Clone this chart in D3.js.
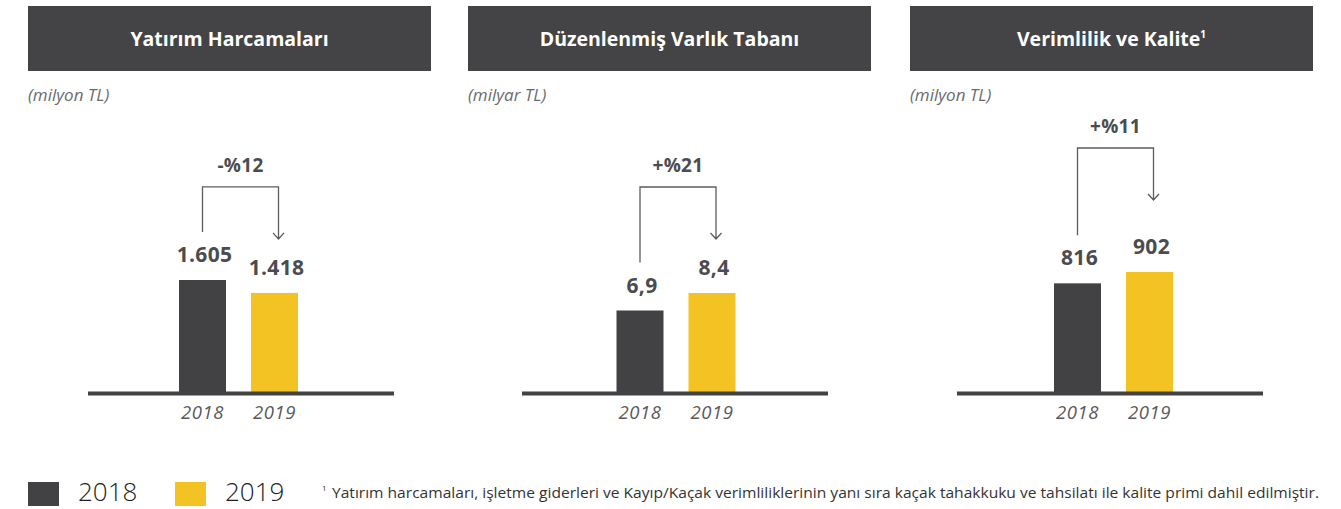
<!DOCTYPE html>
<html>
<head>
<meta charset="utf-8">
<script src="https://cdn.jsdelivr.net/npm/d3@7"></script>
<style>
  body { margin: 0; background: #fff; }
  svg { display: block; font-family: "Open Sans", "Noto Sans", sans-serif; }
</style>
</head>
<body>
<svg width="1341" height="509"></svg>
<script>
// data
var years = ["2018", "2019"];
var titles = ["Yatırım Harcamaları", "Düzenlenmiş Varlık Tabanı", "Verimlilik ve Kalite"];
var units = ["(milyon TL)", "(milyar TL)", "(milyon TL)"];
var values2018 = [1605, 6.9, 816];
var values2019 = [1418, 8.4, 902];
var valueFormats = [",d", ",.1f", ",d"];
var changeLabels = ["-%12", "+%21", "+%11"];
var footnote = "Yatırım harcamaları, işletme giderleri ve Kayıp/Kaçak verimliliklerinin yanı sıra kaçak tahakkuku ve tahsilatı ile kalite primi dahil edilmiştir.";

// layout
var panelX = [28, 468, 910],
    panelW = 403,
    axisCenter = [241, 675, 1110],
    barCenter = [238.5, 676, 1113.5],
    tallest = [111, 98, 119],
    arrowGap = [54, 54, 72],
    baseY = 391;

var dark = "#424244", yellow = "#f2c322", textGrey = "#4b4c4f";
var colors = [dark, yellow];

var tr = d3.formatLocale({decimal: ",", thousands: ".", grouping: [3], currency: ["", " TL"]});

var svg = d3.select("svg");

titles.forEach(function(title, i) {
  var g = svg.append("g");
  var vals = [values2018[i], values2019[i]];

  // header
  g.append("rect")
      .attr("x", panelX[i]).attr("y", 6)
      .attr("width", panelW).attr("height", 65)
      .attr("fill", "#444446");

  var t = g.append("text")
      .attr("x", panelX[i] + panelW / 2)
      .attr("y", 46)
      .attr("text-anchor", "middle")
      .attr("fill", "#fff")
      .attr("font-size", 19.5)
      .attr("font-weight", "bold")
      .text(title);
  if (i == 2) {
    t.append("tspan").attr("dy", -8).attr("font-size", 10).text("1");
  }

  g.append("text")
      .attr("x", panelX[i]).attr("y", 101)
      .attr("fill", "#6b6b6d")
      .attr("font-size", 17)
      .attr("font-style", "italic")
      .text(units[i]);

  var x = d3.scaleBand()
      .domain(years)
      .range([barCenter[i] - 72, barCenter[i] + 72])
      .paddingInner(25 / 72)
      .paddingOuter(12.5 / 72);

  var y = d3.scaleLinear()
      .domain([0, d3.max(vals)])
      .range([baseY, baseY - tallest[i]]);

  g.selectAll(".bar")
    .data(vals)
    .enter().append("rect")
      .attr("x", function(d, j) { return x(years[j]); })
      .attr("y", function(d) { return y(d); })
      .attr("width", x.bandwidth())
      .attr("height", function(d) { return baseY + 2 - y(d); })
      .attr("fill", function(d, j) { return colors[j]; });

  // baseline
  g.append("line")
      .attr("x1", axisCenter[i] - 153).attr("x2", axisCenter[i] + 153)
      .attr("y1", baseY + 2.5).attr("y2", baseY + 2.5)
      .attr("stroke", dark).attr("stroke-width", 4);

  var fmt = tr.format(valueFormats[i]);
  g.selectAll(".val")
    .data(vals)
    .enter().append("text")
      .attr("x", function(d, j) { return x(years[j]) + x.bandwidth() / 2 + 2; })
      .attr("y", function(d) { return y(d) - 18; })
      .attr("text-anchor", "middle")
      .attr("fill", textGrey)
      .attr("font-size", 21)
      .attr("font-weight", "bold")
      .attr("letter-spacing", 0.3)
      .text(function(d) { return fmt(d); });

  g.selectAll(".yr")
    .data(years)
    .enter().append("text")
      .attr("x", function(d) { return x(d) + x.bandwidth() / 2; })
      .attr("y", 419)
      .attr("text-anchor", "middle")
      .attr("fill", "#59595b")
      .attr("font-size", 18.5)
      .attr("font-style", "italic")
      .attr("letter-spacing", 0.6)
      .text(function(d) { return d; });

  // change bracket
  var lx = x(years[0]) + x.bandwidth() / 2,
      rx = lx + 76,
      tip = y(vals[1]) - arrowGap[i],
      top = tip - 52,
      bottom = y(vals[0]) - 48;

  g.append("path")
      .attr("d", "M" + lx + "," + bottom + "V" + top + "H" + rx + "V" + tip +
                 "M" + (rx - 5.5) + "," + (tip - 6) + "L" + rx + "," + tip + "L" + (rx + 5.5) + "," + (tip - 6))
      .attr("fill", "none")
      .attr("stroke", "#5c5c5e")
      .attr("stroke-width", 1.3);

  g.append("text")
      .attr("x", (lx + rx) / 2)
      .attr("y", top - 15)
      .attr("text-anchor", "middle")
      .attr("fill", textGrey)
      .attr("font-size", 19)
      .attr("font-weight", "bold")
      .attr("letter-spacing", 0.3)
      .text(changeLabels[i]);
});

// legend
var legend = svg.selectAll(".legend")
    .data(years)
    .enter().append("g")
      .attr("class", "legend")
      .attr("transform", function(d, i) { return "translate(" + (28 + i * 147) + ",482)"; });

legend.append("rect")
    .attr("width", 31).attr("height", 24)
    .attr("fill", function(d, i) { return colors[i]; });

legend.append("text")
    .attr("x", 50).attr("y", 19)
    .attr("fill", "#222")
    .attr("font-size", 26)
    .attr("font-weight", 300)
    .text(function(d) { return d; });

svg.append("text")
    .attr("x", 322).attr("y", 491)
    .attr("fill", "#333")
    .attr("font-size", 8)
    .text("1");

svg.append("text")
    .attr("x", 332).attr("y", 498)
    .attr("fill", "#333")
    .attr("font-size", 14)
    .attr("textLength", 987)
    .attr("lengthAdjust", "spacingAndGlyphs")
    .text(footnote);
</script>
</body>
</html>
